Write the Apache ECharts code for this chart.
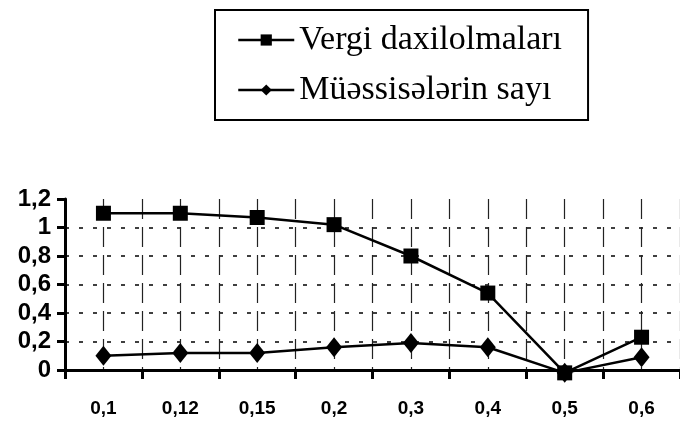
<!DOCTYPE html>
<html>
<head>
<meta charset="utf-8">
<script src="https://cdn.jsdelivr.net/npm/echarts@6/dist/echarts.min.js"></script>
<style>
  html, body { margin: 0; padding: 0; background: #fff; }
  #chart { width: 680px; height: 422px; }
</style>
</head>
<body>
<div id="chart"></div>
<script>
// data
var categories = ['0,1', '0,12', '0,15', '0,2', '0,3', '0,4', '0,5', '0,6']
var vergi = [1.10, 1.10, 1.07, 1.02, 0.80, 0.54, -0.02, 0.23]
var muessise = [0.10, 0.12, 0.12, 0.16, 0.19, 0.16, -0.02, 0.09]
var yLabels = ['0', '0,2', '0,4', '0,6', '0,8', '1', '1,2']

var chart = echarts.init(document.getElementById('chart'))

chart.setOption({
    animation: false,
    legend: {
        orient: 'vertical',
        left: 215,
        top: 10,
        padding: [13, 26, 13, 22],
        itemGap: 16,
        itemWidth: 56,
        itemHeight: 14,
        borderColor: '#000',
        borderWidth: 2,
        lineStyle: { width: 2.5 },
        textStyle: {
            fontFamily: 'Liberation Serif',
            fontSize: 34,
            color: '#000'
        },
        data: ['Vergi daxilolmaları', 'Müəssisələrin sayı']
    },
    grid: {
        left: 65,
        right: 0,
        top: 199,
        bottom: 52
    },
    xAxis: [{
        type: 'category',
        data: categories,
        boundaryGap: true,
        axisLine: { lineStyle: { color: '#000', width: 3 } },
        axisTick: { show: true, length: 9, lineStyle: { color: '#000', width: 3 } },
        axisLabel: {
            margin: 29,
            color: '#000',
            fontFamily: 'Liberation Sans',
            fontWeight: 'bold',
            fontSize: 19
        },
        splitLine: { show: false }
    }, {
        // only for the vertical dashed grid at every half category
        type: 'value',
        min: 0,
        max: 16,
        interval: 1,
        position: 'bottom',
        axisLine: { show: false },
        axisTick: { show: false },
        axisLabel: { show: false },
        splitLine: {
            show: true,
            lineStyle: { color: '#222', width: 1.2, type: [20, 8] }
        }
    }],
    yAxis: {
        type: 'value',
        min: 0,
        max: 1.2,
        interval: 0.2,
        axisLine: { show: true, lineStyle: { color: '#000', width: 3 } },
        axisTick: { show: true, length: 8, lineStyle: { color: '#000', width: 3 } },
        axisLabel: {
            margin: 14,
            color: '#000',
            fontFamily: 'Liberation Sans',
            fontWeight: 'bold',
            fontSize: 24,
            formatter: function (v) {
                return yLabels[Math.round(v / 0.2)]
            }
        },
        splitLine: {
            show: true,
            // no grid line at the top value
            lineStyle: {
                color: ['#000', '#000', '#000', '#000', '#000', '#000', 'rgba(0,0,0,0)'],
                width: 1.5,
                type: [4, 10]
            }
        }
    },
    series: [{
        name: 'Vergi daxilolmaları',
        type: 'line',
        xAxisIndex: 0,
        data: vergi,
        clip: false,
        symbol: 'rect',
        symbolSize: 15,
        itemStyle: { color: '#000' },
        lineStyle: { color: '#000', width: 2.5 }
    }, {
        name: 'Müəssisələrin sayı',
        type: 'line',
        xAxisIndex: 0,
        data: muessise,
        clip: false,
        symbol: 'diamond',
        symbolSize: [16, 20],
        itemStyle: { color: '#000' },
        lineStyle: { color: '#000', width: 2.5 }
    }]
})
</script>
</body>
</html>
